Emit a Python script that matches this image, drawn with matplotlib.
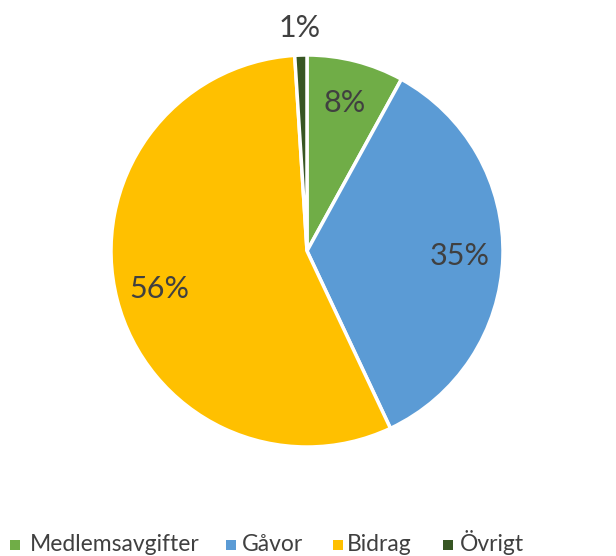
import matplotlib
matplotlib.use("Agg")
import matplotlib.pyplot as plt
import numpy as np
from matplotlib.patches import Rectangle

categories = ["Medlemsavgifter", "Gåvor", "Bidrag", "Övrigt"]
shares = [8, 35, 56, 1]
colors = ["#70AD47", "#5B9BD5", "#FFC000", "#375623"]

plt.rcParams["font.family"] = ["Lato", "DejaVu Sans"]
TEXT = "#404040"

fig = plt.figure(figsize=(6.16, 5.56), dpi=100)
ax = fig.add_axes([0, 0, 1, 1])

cx, cy, r = 307, 556 - 251, 196
wedges, texts, autotexts = ax.pie(
    shares, colors=colors, startangle=90, counterclock=False,
    center=(cx, cy), radius=r, autopct="%1.0f%%", pctdistance=0.78,
    wedgeprops=dict(edgecolor="white", linewidth=2.5),
    textprops=dict(fontsize=22, color=TEXT),
)
# pie() resets the limits around a unit pie, so set pixel-like limits afterwards
ax.set_xlim(0, 616)
ax.set_ylim(0, 556)
ax.set_aspect("equal")
ax.axis("off")

# small slice label sits outside the pie
w = wedges[-1]
mid = np.deg2rad((w.theta1 + w.theta2) / 2)
autotexts[-1].set_position((cx + 1.14 * r * np.cos(mid), cy + 1.14 * r * np.sin(mid)))

# legend along the bottom edge
marker_x = [10, 226, 333, 443]
text_x = [30, 242, 347, 460]
for mx, tx, name, c in zip(marker_x, text_x, categories, colors):
    ax.add_patch(Rectangle((mx, 6), 10, 10, facecolor=c, edgecolor="none"))
    ax.text(tx, 5, name, fontsize=16.5, color=TEXT, ha="left", va="baseline")

fig.savefig("out.png", dpi=100)
